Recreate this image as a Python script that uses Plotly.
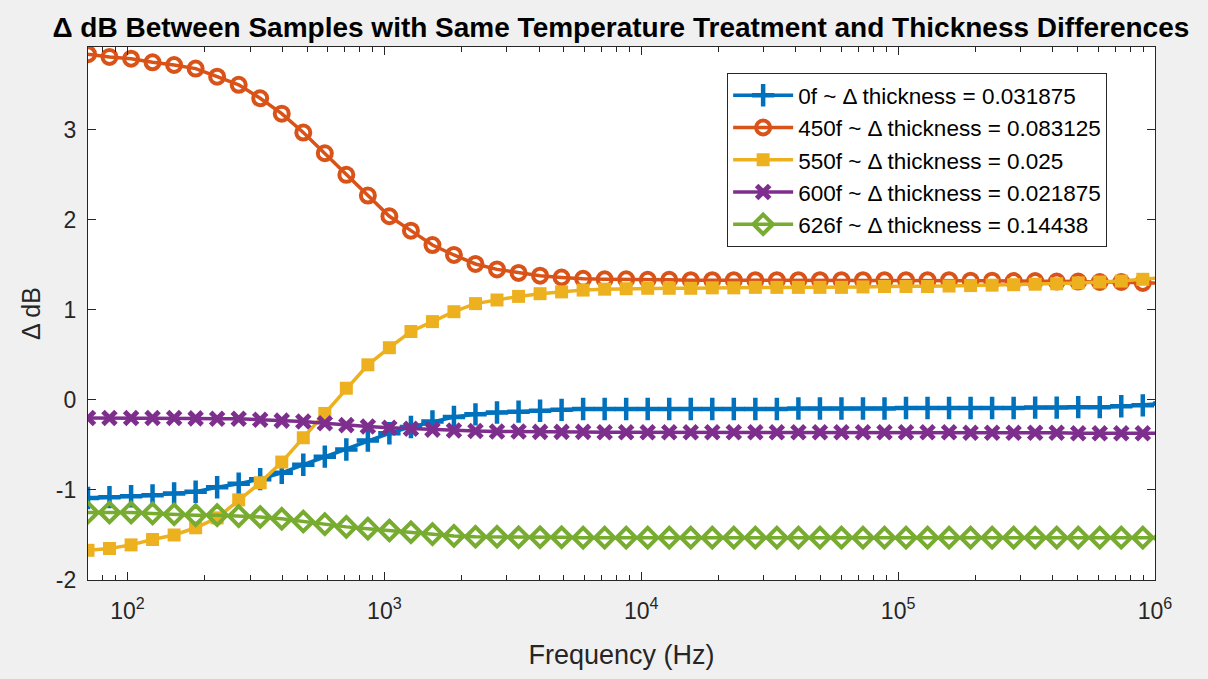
import plotly.graph_objects as go

# Swept frequency points (Hz)
freq = [70.2, 85.1, 103.3, 125.2, 151.9, 184.2, 223.4, 271.0, 328.6, 398.6,
        483.5, 586.4, 711.2, 862.6, 1046, 1269, 1539, 1866, 2263, 2745,
        3330, 4038, 4897, 5940, 7204, 8737, 10596, 12851, 15587, 18904,
        22928, 27808, 33727, 40906, 49613, 60173, 72980, 88514, 107320, 130170,
        157860, 191480, 232210, 281640, 341600, 414310, 502460, 609400, 739090, 896400,
        1087000]

# Delta dB per sample pair
d_0f = [-1.09, -1.08, -1.07, -1.06, -1.04, -1.02, -0.97, -0.93, -0.88, -0.81,
        -0.72, -0.63, -0.55, -0.45, -0.37, -0.30, -0.24, -0.19, -0.16, -0.14,
        -0.13, -0.12, -0.11, -0.10, -0.10, -0.10, -0.10, -0.10, -0.10, -0.10,
        -0.10, -0.10, -0.10, -0.095, -0.095, -0.095, -0.095, -0.095, -0.09, -0.09,
        -0.09, -0.09, -0.09, -0.09, -0.085, -0.085, -0.08, -0.08, -0.07, -0.06,
        -0.04]
d_450f = [3.84, 3.81, 3.79, 3.75, 3.72, 3.68, 3.59, 3.50, 3.35, 3.18,
          2.97, 2.74, 2.50, 2.27, 2.04, 1.88, 1.72, 1.61, 1.51, 1.45,
          1.41, 1.38, 1.36, 1.345, 1.34, 1.34, 1.335, 1.335, 1.33, 1.33,
          1.33, 1.33, 1.33, 1.33, 1.33, 1.33, 1.33, 1.33, 1.33, 1.33,
          1.33, 1.325, 1.325, 1.32, 1.32, 1.315, 1.315, 1.31, 1.31, 1.30,
          1.30]
d_550f = [-1.67, -1.65, -1.61, -1.55, -1.50, -1.42, -1.31, -1.11, -0.92, -0.69,
          -0.42, -0.15, 0.13, 0.39, 0.58, 0.76, 0.87, 0.98, 1.07, 1.11,
          1.15, 1.18, 1.20, 1.22, 1.23, 1.235, 1.24, 1.24, 1.24, 1.245,
          1.245, 1.25, 1.25, 1.25, 1.25, 1.25, 1.255, 1.26, 1.26, 1.26,
          1.265, 1.27, 1.275, 1.28, 1.285, 1.29, 1.30, 1.31, 1.32, 1.34,
          1.36]
d_600f = [-0.20, -0.20, -0.20, -0.20, -0.20, -0.205, -0.21, -0.21, -0.22, -0.23,
          -0.24, -0.26, -0.28, -0.295, -0.31, -0.32, -0.33, -0.34, -0.345, -0.35,
          -0.35, -0.355, -0.355, -0.355, -0.36, -0.36, -0.36, -0.36, -0.36, -0.36,
          -0.36, -0.36, -0.36, -0.36, -0.36, -0.36, -0.36, -0.36, -0.36, -0.36,
          -0.36, -0.365, -0.365, -0.365, -0.365, -0.365, -0.37, -0.37, -0.37, -0.37,
          -0.37]
d_626f = [-1.25, -1.25, -1.25, -1.26, -1.27, -1.28, -1.28, -1.29, -1.30, -1.32,
          -1.35, -1.38, -1.41, -1.43, -1.45, -1.47, -1.49, -1.51, -1.52, -1.52,
          -1.525, -1.525, -1.525, -1.53, -1.53, -1.53, -1.53, -1.53, -1.53, -1.53,
          -1.53, -1.53, -1.53, -1.53, -1.53, -1.53, -1.53, -1.53, -1.53, -1.53,
          -1.53, -1.53, -1.53, -1.53, -1.53, -1.53, -1.53, -1.53, -1.53, -1.53,
          -1.53]

series_names = ["0f ~ Δ thickness = 0.031875",
                "450f ~ Δ thickness = 0.083125",
                "550f ~ Δ thickness = 0.025",
                "600f ~ Δ thickness = 0.021875",
                "626f ~ Δ thickness = 0.14438"]
series_values = [d_0f, d_450f, d_550f, d_600f, d_626f]
colors = ["#0072BD", "#D95319", "#EDB120", "#7E2F8E", "#77AC30"]
symbols = ["cross-thin-open", "circle-open", "square", "x-thin-open", "diamond-open"]
sizes = [16, 14, 13, 13, 15]
mline = [4.5, 4, 0, 5, 4]

x_tick_vals = [1e2, 1e3, 1e4, 1e5, 1e6]
x_tick_text = ["10<sup>2</sup>", "10<sup>3</sup>", "10<sup>4</sup>",
               "10<sup>5</sup>", "10<sup>6</sup>"]
y_tick_vals = [-2, -1, 0, 1, 2, 3]
y_tick_text = ["-2", "-1", "0", "1", "2", "3"]

minor_vals = [m * 10 ** e for e in range(1, 6) for m in range(2, 10)]
minor_vals = [v for v in minor_vals if 70 < v < 1e6]

fig = go.Figure()
for name, vals, col, sym, sz, lw in zip(series_names, series_values, colors,
                                        symbols, sizes, mline):
    fig.add_trace(go.Scatter(
        x=freq, y=vals, name=name, mode="lines+markers",
        line=dict(color=col, width=3.5),
        marker=dict(symbol=sym, size=sz, color=col,
                    line=dict(color=col, width=lw)),
    ))

axis_col = "#262626"
fig.update_layout(
    width=1208, height=679,
    paper_bgcolor="#F0F0F0", plot_bgcolor="white",
    margin=dict(l=88, r=53, t=47, b=99),
    font=dict(family="Liberation Sans, Arial, sans-serif", color=axis_col),
    title=dict(text="<b>Δ dB Between Samples with Same Temperature Treatment and Thickness Differences</b>",
               x=0.514, xanchor="center", y=0.96, yanchor="middle",
               font=dict(size=28, color="black")),
    showlegend=True,
    legend=dict(x=0.599, y=0.951, xanchor="left", yanchor="top",
                bgcolor="white", bordercolor=axis_col, borderwidth=1,
                font=dict(size=22.5, color="black"), itemwidth=60,
                tracegroupgap=0),
)
fig.update_xaxes(
    type="log", range=[1.8463, 6],
    tickvals=x_tick_vals, ticktext=x_tick_text,
    ticks="inside", ticklen=8, tickwidth=1, tickcolor=axis_col,
    ticklabelstandoff=10,
    minor=dict(tickvals=minor_vals, ticks="inside", ticklen=5,
               tickcolor=axis_col, tickwidth=1),
    showline=True, linecolor=axis_col, linewidth=1.2, mirror="ticks",
    showgrid=False, zeroline=False,
    tickfont=dict(size=23, color=axis_col),
    title=dict(text="Frequency (Hz)", font=dict(size=27, color=axis_col), standoff=22),
)
fig.update_yaxes(
    range=[-2, 3.92], tickvals=y_tick_vals, ticktext=y_tick_text,
    ticks="inside", ticklen=8, tickwidth=1, tickcolor=axis_col,
    ticklabelstandoff=6,
    showline=True, linecolor=axis_col, linewidth=1.2, mirror="ticks",
    showgrid=False, zeroline=False,
    tickfont=dict(size=23, color=axis_col),
    title=dict(text="Δ dB", font=dict(size=25, color=axis_col), standoff=8),
)

fig.write_html("out.html")
